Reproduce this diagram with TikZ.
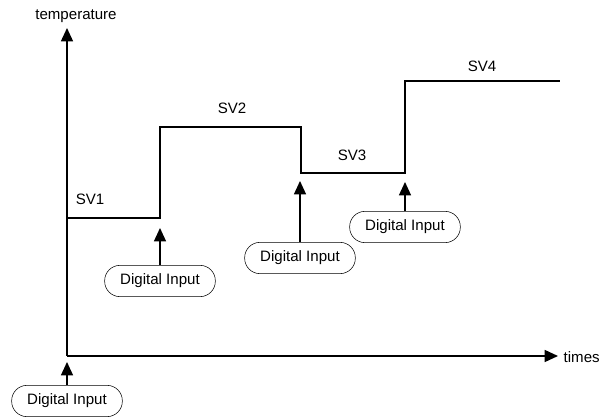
\documentclass[tikz,border=0pt]{standalone}
\usepackage{fontspec}
\setmainfont{Liberation Sans}
\usetikzlibrary{arrows.meta,positioning}

\begin{document}
\begin{tikzpicture}[
  x=0.75pt, y=-0.75pt,
  font=\fontsize{11.3}{13}\selectfont,
  trigger/.style={
    draw, rounded corners=11.5pt, fill=white,
    minimum width=83pt, minimum height=23.5pt, inner sep=2pt
  },
  level/.style={inner sep=1pt},
  axis/.style={-{Triangle[length=10pt, width=9pt]}, line width=1.1pt},
  curve/.style={line width=0.95pt},
  push/.style={-{Triangle[length=10pt, width=9pt]}, line width=0.95pt},
]
\useasboundingbox (0,0) rectangle (601,417);

% ---- axes --------------------------------------------------------------
\coordinate (origin) at (67, 356);
\coordinate (ytop)   at (67, 28);
\coordinate (xend)   at (558, 356);
\node (templabel)  at (76, 16) {temperature};
\node[anchor=west] (timelabel) at (559, 357) {times};

\draw[axis] (origin) -- (ytop);
\draw[axis] (origin) -- (xend);

% ---- set value staircase -----------------------------------------------
\draw[curve] (67, 218) -- (160, 218) -- (160, 127) -- (301, 127)
  -- (301, 173) -- (405, 173) -- (405, 81) -- (560, 81);

\node[level] (sv1) at (90, 199)  {SV1};
\node[level] (sv2) at (232, 108) {SV2};
\node[level] (sv3) at (352, 155) {SV3};
\node[level] (sv4) at (482, 66)  {SV4};

% ---- digital inputs ----------------------------------------------------
\node[trigger] (di0) at (67, 401)  {Digital Input};
\node[trigger] (di1) at (160, 281) {Digital Input};
\node[trigger] (di2) at (300, 258) {Digital Input};
\node[trigger] (di3) at (405, 227) {Digital Input};

\coordinate (hit0) at (67, 362);
\coordinate (hit1) at (160, 228);
\coordinate (hit2) at (300, 181);
\coordinate (hit3) at (405, 182);

\draw[push] (di0.north) -- (hit0);
\draw[push] (di1.north) -- (hit1);
\draw[push] (di2.north) -- (hit2);
\draw[push] (di3.north) -- (hit3);

\end{tikzpicture}
\end{document}
